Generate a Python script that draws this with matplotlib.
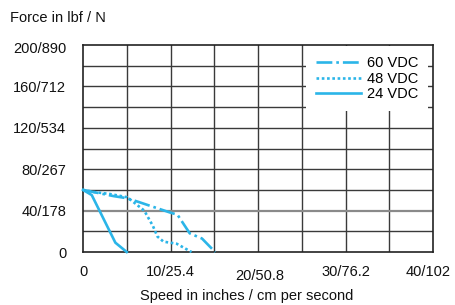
import numpy as np
import matplotlib
matplotlib.use("Agg")
import matplotlib.pyplot as plt
import matplotlib.transforms as mtransforms

plt.rcParams["font.family"] = ["Liberation Sans", "DejaVu Sans"]

# speed (in/s) vs force (lbf)
x_60 = [0, 3.5, 5.0, 6.3, 10.0, 10.8, 12.2, 13.6, 15.1]
y_60 = [60, 54, 52, 48.5, 38, 36, 18, 13, 0]
x_48 = [0, 1.2, 3.1, 5.0, 5.5, 7.0, 8.0, 8.5, 9.2, 10.7, 12.4]
y_48 = [60, 58, 56, 53, 50, 40, 25, 15, 10, 8, 0]
x_24 = [0, 1.0, 3.7, 5.0]
y_24 = [60, 55, 9, 0]

series_labels = ["60 VDC", "48 VDC", "24 VDC"]
x_tick_vals = [0, 10, 20, 30, 40]
x_tick_text = ["0", "10/25.4", "20/50.8", "30/76.2", "40/102"]
y_tick_vals = [0, 40, 80, 120, 160, 200]
y_tick_text = ["0", "40/178", "80/267", "120/534", "160/712", "200/890"]

W, H = 455, 305
fig = plt.figure(figsize=(W / 100, H / 100), dpi=100)
ax = fig.add_axes([83 / W, 1 - 252 / H, 350 / W, 207 / H])
ax.set_xlim(0, 40)
ax.set_ylim(0, 200)
ax.set_xticks([])
ax.set_yticks([])
for s in ax.spines.values():
    s.set_color("#222222")
    s.set_linewidth(1.2)

# grid
for gx in np.arange(5, 40, 5):
    ax.axvline(gx, color="#3a3a3a", lw=1.0, zorder=1)
for gy in np.arange(20, 200, 20):
    if gy == 40:
        ax.axhline(gy, color="#8a8a8a", lw=1.6, zorder=1)
    else:
        ax.axhline(gy, color="#3a3a3a", lw=1.0, zorder=1)

blue = "#2BB5E8"
ax.plot(x_60, y_60, color=blue, lw=1.9, ls=(0, (6, 1.5, 1, 1.5)),
        label=series_labels[0], zorder=3, clip_on=False)
ax.plot(x_48, y_48, color=blue, lw=1.9, ls=(0, (1, 1)),
        label=series_labels[1], zorder=3, clip_on=False)
ax.plot(x_24, y_24, color=blue, lw=1.9, ls="-",
        label=series_labels[2], zorder=3, clip_on=False)

leg = ax.legend(loc="upper left", bbox_to_anchor=(306 / W, 1 - 46 / H),
                bbox_transform=fig.transFigure, fontsize=10.5,
                handlelength=3.1, handletextpad=0.35, labelspacing=0.1,
                borderpad=0.7, borderaxespad=0, frameon=True,
                fancybox=False, facecolor="white", edgecolor="none",
                framealpha=1)
leg.set_zorder(5)

# y tick labels
for v, t in zip(y_tick_vals, y_tick_text):
    dy = -4 if v == 200 else -1.5
    ax.text(-1.9, v + dy, t, ha="right", va="center", fontsize=10.5,
            color="#111111", clip_on=False)

# x tick labels (20/50.8 sits a bit lower in the original)
xtrans = mtransforms.blended_transform_factory(ax.transData, fig.transFigure)
x_label_pos = [0.1, 10, 20.2, 30.1, 39.5]
for xp, t in zip(x_label_pos, x_tick_text):
    yy = 276 if t == "20/50.8" else 272
    ax.text(xp, 1 - yy / H, t, ha="center", va="center", fontsize=10.5,
            color="#111111", transform=xtrans)

fig.text(10 / W, 1 - 18 / H, "Force in lbf / N", ha="left", va="center",
         fontsize=10.5, color="#111111")
fig.text(247 / W, 1 - 296 / H, "Speed in inches / cm per second",
         ha="center", va="center", fontsize=10.5, color="#111111")

fig.savefig("out.png", dpi=100, facecolor="white")
